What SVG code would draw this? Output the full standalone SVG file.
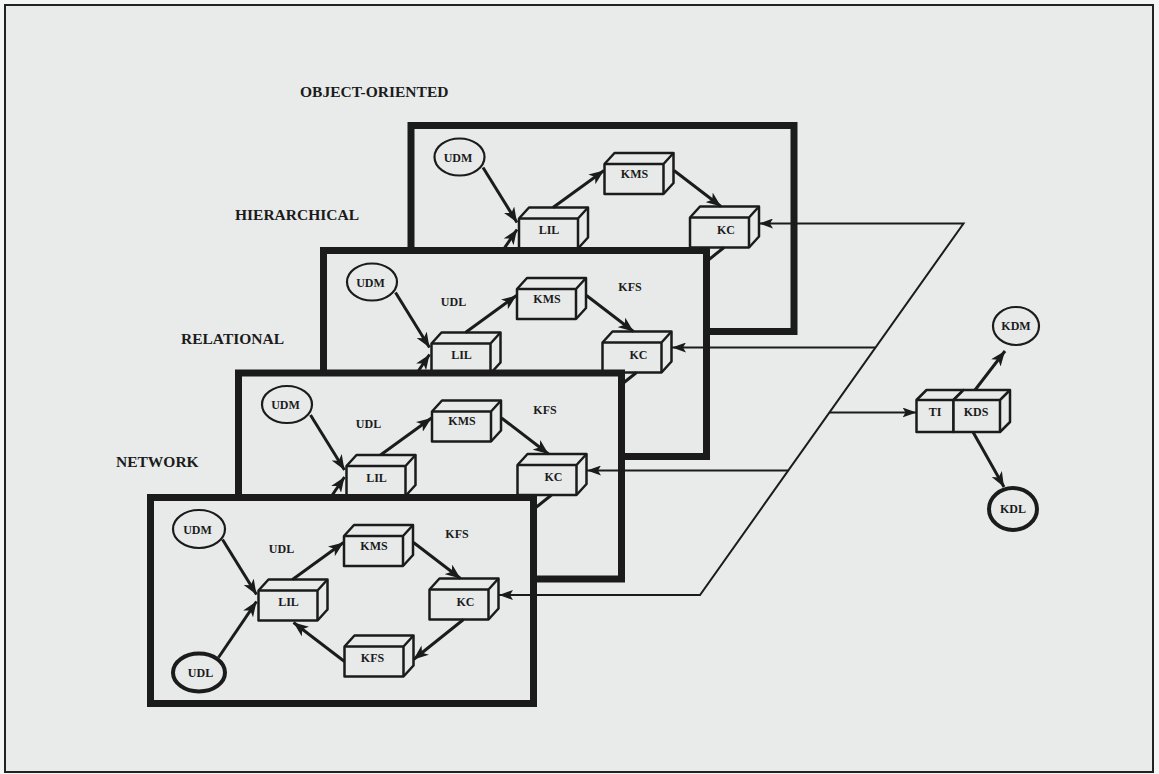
<svg xmlns="http://www.w3.org/2000/svg" width="1159" height="774" viewBox="0 0 1159 774">
<style>
 .frame{fill:#e9ebeb;stroke:#222;stroke-width:2}
 .panel{fill:#e8eaea;stroke:#1b1b1b;stroke-width:7}
 .cube{fill:#e8eaea;stroke:#1b1b1b;stroke-width:2.5;stroke-linejoin:round}
 .cl{fill:none;stroke:#1b1b1b;stroke-width:2.5;stroke-linejoin:round}
 .edge{fill:none;stroke:#1b1b1b;stroke-width:3}
 .thin{fill:none;stroke:#1b1b1b;stroke-width:2;stroke-linejoin:miter}
 .ell{fill:#e8eaea;stroke:#1b1b1b;stroke-width:2.2}
 .thick{stroke-width:4}
 text{font-family:"Liberation Serif","Times New Roman",serif;font-weight:bold;fill:#1b1b1b}
 .lbl{font-size:12px;text-anchor:middle}
 .title{font-size:15.5px}
</style>
<defs>
 <marker id="ah" markerUnits="userSpaceOnUse" markerWidth="16" markerHeight="12" refX="15" refY="6" orient="auto"><path d="M0,0 L15,6 L0,12 L4,6 z" fill="#1b1b1b"/></marker>
 <marker id="ahs" markerUnits="userSpaceOnUse" markerWidth="14" markerHeight="10" refX="14" refY="5" orient="auto-start-reverse"><path d="M0,0 L14,5 L0,10 L3,5 z" fill="#1b1b1b"/></marker>
 <g id="cube"><path class="cube" d="M0,0 L10,-11 H69 V19 L59,30 H0 Z"/><path class="cl" d="M0,0 H59 V30 M59,0 L69,-11"/></g>
</defs>
<rect x="0" y="0" width="1159" height="774" fill="#f4f5f5"/>
<rect class="frame" x="5" y="5" width="1148" height="767"/>

<g id="titles">
 <text class="title" x="300" y="96.5">OBJECT-ORIENTED</text>
 <text class="title" x="235" y="220">HIERARCHICAL</text>
 <text class="title" x="181" y="344">RELATIONAL</text>
 <text class="title" x="116" y="467">NETWORK</text>
</g>

<!-- Object-oriented panel (back) -->
<g id="panel-object-oriented" transform="translate(411,125.5)">
 <rect class="panel" width="383" height="206"/>
 <g id="oo-udm"><ellipse class="ell" cx="48.5" cy="31.5" rx="25" ry="18.5"/><text class="lbl" x="47" y="36">UDM</text></g>
 <g id="oo-kms" transform="translate(193.5,38.5)"><use href="#cube"/><text class="lbl" x="30" y="13.5">KMS</text></g>
 <g id="oo-lil" transform="translate(108,93)"><use href="#cube"/><text class="lbl" x="30" y="15.5">LIL</text></g>
 <g id="oo-kc" transform="translate(279,92)"><use href="#cube"/><text class="lbl" x="36" y="16">KC</text></g>
 <g id="oo-connectors">
  <path class="edge" d="M72,42 L106,97" marker-end="url(#ah)"/>
  <path class="edge" d="M68,160 L106,104" marker-end="url(#ah)"/>
  <path class="edge" d="M142,82 L193,45" marker-end="url(#ah)"/>
  <path class="edge" d="M263,45 L310,81" marker-end="url(#ah)"/>
  <path class="edge" d="M313,122 L263,162"/>
 </g>
</g>

<!-- Hierarchical panel -->
<g id="panel-hierarchical" transform="translate(323.5,250.5)">
 <rect class="panel" width="383" height="206"/>
 <g id="hi-udm"><ellipse class="ell" cx="48.5" cy="31.5" rx="25" ry="18.5"/><text class="lbl" x="47" y="36">UDM</text></g>
 <text class="lbl" x="130" y="55">UDL</text>
 <text class="lbl" x="306.5" y="40.5">KFS</text>
 <g id="hi-kms" transform="translate(193.5,38.5)"><use href="#cube"/><text class="lbl" x="30" y="13.5">KMS</text></g>
 <g id="hi-lil" transform="translate(108,93)"><use href="#cube"/><text class="lbl" x="30" y="15.5">LIL</text></g>
 <g id="hi-kc" transform="translate(279,92)"><use href="#cube"/><text class="lbl" x="36" y="16">KC</text></g>
 <g id="hi-connectors">
  <path class="edge" d="M72,42 L106,97" marker-end="url(#ah)"/>
  <path class="edge" d="M68,160 L106,104" marker-end="url(#ah)"/>
  <path class="edge" d="M142,82 L193,45" marker-end="url(#ah)"/>
  <path class="edge" d="M263,45 L310,81" marker-end="url(#ah)"/>
  <path class="edge" d="M313,122 L263,162"/>
 </g>
</g>

<!-- Relational panel -->
<g id="panel-relational" transform="translate(238.5,373)">
 <rect class="panel" width="383" height="206"/>
 <g id="re-udm"><ellipse class="ell" cx="48.5" cy="31.5" rx="25" ry="18.5"/><text class="lbl" x="47" y="36">UDM</text></g>
 <text class="lbl" x="130" y="55">UDL</text>
 <text class="lbl" x="306.5" y="40.5">KFS</text>
 <g id="re-kms" transform="translate(193.5,38.5)"><use href="#cube"/><text class="lbl" x="30" y="13.5">KMS</text></g>
 <g id="re-lil" transform="translate(108,93)"><use href="#cube"/><text class="lbl" x="30" y="15.5">LIL</text></g>
 <g id="re-kc" transform="translate(279,92)"><use href="#cube"/><text class="lbl" x="36" y="16">KC</text></g>
 <g id="re-connectors">
  <path class="edge" d="M72,42 L106,97" marker-end="url(#ah)"/>
  <path class="edge" d="M68,160 L106,104" marker-end="url(#ah)"/>
  <path class="edge" d="M142,82 L193,45" marker-end="url(#ah)"/>
  <path class="edge" d="M263,45 L310,81" marker-end="url(#ah)"/>
  <path class="edge" d="M313,122 L263,162"/>
 </g>
</g>

<!-- Network panel (front) -->
<g id="panel-network" transform="translate(150.5,497.5)">
 <rect class="panel" width="383" height="206"/>
 <g id="nw-udm"><ellipse class="ell" cx="48.5" cy="31.5" rx="26" ry="19"/><text class="lbl" x="47" y="36">UDM</text></g>
 <g id="nw-udl"><ellipse class="ell thick" cx="48.5" cy="175" rx="26" ry="19"/><text class="lbl" x="50" y="179">UDL</text></g>
 <text class="lbl" x="131" y="55">UDL</text>
 <text class="lbl" x="306.5" y="40.5">KFS</text>
 <g id="nw-kms" transform="translate(193.5,38.5)"><use href="#cube"/><text class="lbl" x="30" y="13.5">KMS</text></g>
 <g id="nw-lil" transform="translate(108,93)"><use href="#cube"/><text class="lbl" x="30" y="15.5">LIL</text></g>
 <g id="nw-kc" transform="translate(279,92)"><use href="#cube"/><text class="lbl" x="36" y="16">KC</text></g>
 <g id="nw-kfs" transform="translate(194,149)"><use href="#cube"/><text class="lbl" x="28" y="15">KFS</text></g>
 <g id="nw-connectors">
  <path class="edge" d="M72,42 L106,97" marker-end="url(#ah)"/>
  <path class="edge" d="M68,160 L106,104" marker-end="url(#ah)"/>
  <path class="edge" d="M142,82 L193,45" marker-end="url(#ah)"/>
  <path class="edge" d="M263,45 L310,81" marker-end="url(#ah)"/>
  <path class="edge" d="M313,122 L263,162" marker-end="url(#ah)"/>
  <path class="edge" d="M194,164 L143,125" marker-end="url(#ah)"/>
 </g>
</g>

<!-- Kernel side -->
<g id="ti">
 <path class="cube" d="M916.5,400 L926.5,390 H963.5 L953.5,400 V432 H916.5 Z"/>
 <path class="cl" d="M916.5,400 H953.5"/>
 <text class="lbl" x="935" y="416">TI</text>
</g>
<g id="kds">
 <path class="cube" d="M953.5,400 L963.5,390 H1010 V422 L1000,432 H953.5 Z"/>
 <path class="cl" d="M953.5,400 H1000 V432 M1000,400 L1010,390"/>
 <text class="lbl" x="976" y="416">KDS</text>
</g>
<g id="kdm"><ellipse class="ell" cx="1016" cy="326" rx="23" ry="19"/><text class="lbl" x="1016" y="330">KDM</text></g>
<g id="kdl"><ellipse class="ell thick" cx="1013" cy="509" rx="24" ry="21"/><text class="lbl" x="1013" y="513">KDL</text></g>

<g id="connectors">
 <path class="thin" d="M759,223.5 H963.5 L700,595 H499" marker-start="url(#ahs)" marker-end="url(#ahs)"/>
 <path class="thin" d="M875.5,347.5 H672" marker-end="url(#ahs)"/>
 <path class="thin" d="M788.3,470.5 H587" marker-end="url(#ahs)"/>
 <path class="thin" d="M830,412.5 H916.5" marker-end="url(#ahs)"/>
 <path class="edge" d="M975,390 L1005,351" marker-end="url(#ah)"/>
 <path class="edge" d="M973,432 L1004,487" marker-end="url(#ah)"/>
</g>
</svg>
